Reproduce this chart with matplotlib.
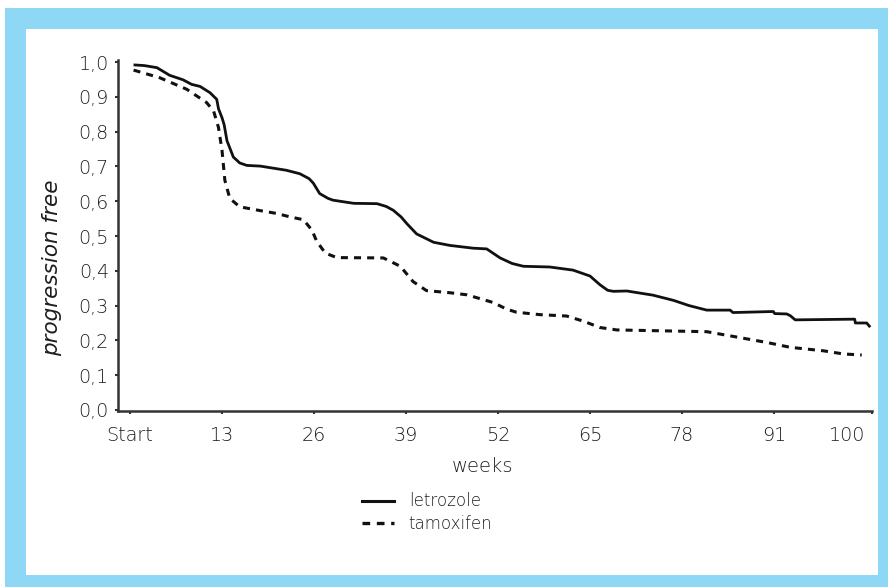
import matplotlib
matplotlib.use("Agg")
import matplotlib.pyplot as plt
from matplotlib.patches import Rectangle
from matplotlib.lines import Line2D

# ---------------- data ----------------
letrozole_weeks = [0.5, 2.0, 3.8, 5.6, 7.5, 8.7, 9.9, 11.3, 12.25, 12.5, 13.0, 13.3, 13.7, 14.6,
                   15.5, 16.5, 18.4, 22.1, 24.0, 25.3, 25.9, 26.8, 28.0, 28.7, 31.6, 34.9, 36.2,
                   37.2, 38.3, 39.1, 40.5, 42.9, 45.2, 48.5, 50.4, 52.3, 54.0, 55.6, 59.3, 62.6,
                   65.0, 66.4, 67.5, 68.3, 70.2, 73.9, 76.8, 79.0, 81.5, 84.8, 85.2, 90.9, 91.1,
                   92.8, 93.3, 94.0, 102.4, 102.5, 104.1, 104.6]
letrozole_vals = [0.992, 0.990, 0.984, 0.962, 0.949, 0.936, 0.930, 0.912, 0.893, 0.866, 0.840,
                  0.820, 0.774, 0.727, 0.710, 0.703, 0.701, 0.689, 0.679, 0.665, 0.652, 0.622,
                  0.608, 0.603, 0.594, 0.593, 0.585, 0.574, 0.555, 0.536, 0.506, 0.482, 0.473,
                  0.465, 0.463, 0.437, 0.421, 0.413, 0.411, 0.402, 0.385, 0.360, 0.344, 0.341,
                  0.342, 0.330, 0.315, 0.300, 0.287, 0.287, 0.280, 0.283, 0.277, 0.276, 0.271,
                  0.259, 0.261, 0.250, 0.250, 0.238]

tamoxifen_weeks = [0.5, 4.2, 8.0, 10.8, 11.8, 12.5, 13.0, 13.4, 14.1, 15.5, 18.4, 20.7, 22.6,
                   24.5, 25.7, 26.4, 27.6, 29.2, 35.8, 38.2, 40.0, 41.9, 45.2, 47.6, 51.3, 53.2,
                   54.6, 57.9, 61.7, 64.1, 66.4, 68.8, 81.5, 84.8, 90.0, 93.3, 98.0, 100.8, 103.4]
tamoxifen_vals = [0.977, 0.955, 0.922, 0.884, 0.860, 0.812, 0.746, 0.660, 0.608, 0.584, 0.573,
                  0.565, 0.555, 0.547, 0.517, 0.484, 0.451, 0.438, 0.437, 0.413, 0.369, 0.343,
                  0.337, 0.331, 0.309, 0.290, 0.281, 0.274, 0.270, 0.255, 0.237, 0.230, 0.225,
                  0.213, 0.194, 0.180, 0.170, 0.161, 0.158]

x_ticks = [0, 13, 26, 39, 52, 65, 78, 91, 101.3]
x_tick_labels = ["Start", "13", "26", "39", "52", "65", "78", "91", "100"]
y_ticks = [0.0, 0.1, 0.2, 0.3, 0.4, 0.5, 0.6, 0.7, 0.8, 0.9, 1.0]
y_tick_labels = ["0,0", "0,1", "0,2", "0,3", "0,4", "0,5", "0,6", "0,7", "0,8", "0,9", "1,0"]
series_labels = ["letrozole", "tamoxifen"]

# ---------------- figure ----------------
plt.rcParams["font.family"] = ["DejaVu Sans"]
plt.rcParams["font.weight"] = "light"

W, H = 888, 587
fig = plt.figure(figsize=(W / 100, H / 100), dpi=100)
fig.patch.set_facecolor("white")

BLUE = "#8ED8F6"
TXT = "#1e1e1e"


def px_rect(x0, y0, x1, y1, color, z):
    fig.patches.append(Rectangle((x0 / W, 1 - y1 / H), (x1 - x0) / W, (y1 - y0) / H,
                                 transform=fig.transFigure, facecolor=color,
                                 edgecolor="none", zorder=z))


px_rect(5, 8, 888, 587, BLUE, -10)
px_rect(26, 29, 878, 575, "white", -9)

ax_l, ax_r, ax_t, ax_b = 118, 872, 60, 411
ax = fig.add_axes([ax_l / W, 1 - ax_b / H, (ax_r - ax_l) / W, (ax_b - ax_t) / H])
ax.set_facecolor("none")

ax.plot(letrozole_weeks, letrozole_vals, color="#111111", lw=2.0, solid_capstyle="butt",
        label=series_labels[0])
ax.plot(tamoxifen_weeks, tamoxifen_vals, color="#111111", lw=2.2, linestyle=(0, (2.3, 2.0)),
        dash_capstyle="butt", label=series_labels[1])

ax.set_xlim(-1.7, 104.85)
ax.set_ylim(-0.003, 1.006)

for s in ["top", "right"]:
    ax.spines[s].set_visible(False)
for s in ["left", "bottom"]:
    ax.spines[s].set_color("#333333")
    ax.spines[s].set_linewidth(1.8)

ax.set_xticks(x_ticks)
ax.set_xticklabels(x_tick_labels)
ax.set_xticks([104.85], minor=True)
ax.set_yticks(y_ticks)
ax.set_yticklabels(y_tick_labels)

ax.tick_params(axis="both", which="both", direction="out", length=2.5, width=1.5,
               color="#333333", labelcolor=TXT, labelsize=13.8)
ax.tick_params(axis="x", which="both", pad=8)
ax.tick_params(axis="y", pad=4)
ax.xaxis.get_major_ticks()[-1].tick1line.set_visible(False)

fig.text(483 / W, 1 - 466 / H, "weeks", ha="center", va="center", fontsize=14, color=TXT)
fig.text(52 / W, 1 - 268 / H, "progression free", ha="center", va="center", rotation=90,
         fontsize=15.5, style="italic", color=TXT)

handles = [Line2D([], [], color="#111111", lw=2.2),
           Line2D([], [], color="#111111", lw=2.4, linestyle=(0, (2.3, 2.0)))]
leg = fig.legend(handles, series_labels, loc="center left",
                 bbox_to_anchor=(362 / W, 1 - 512.5 / H), frameon=False, fontsize=12,
                 handlelength=1.9, handletextpad=0.9, labelspacing=0.25, borderpad=0,
                 borderaxespad=0)
for t in leg.get_texts():
    t.set_color(TXT)

fig.savefig("out.png", dpi=100, facecolor=fig.get_facecolor())
